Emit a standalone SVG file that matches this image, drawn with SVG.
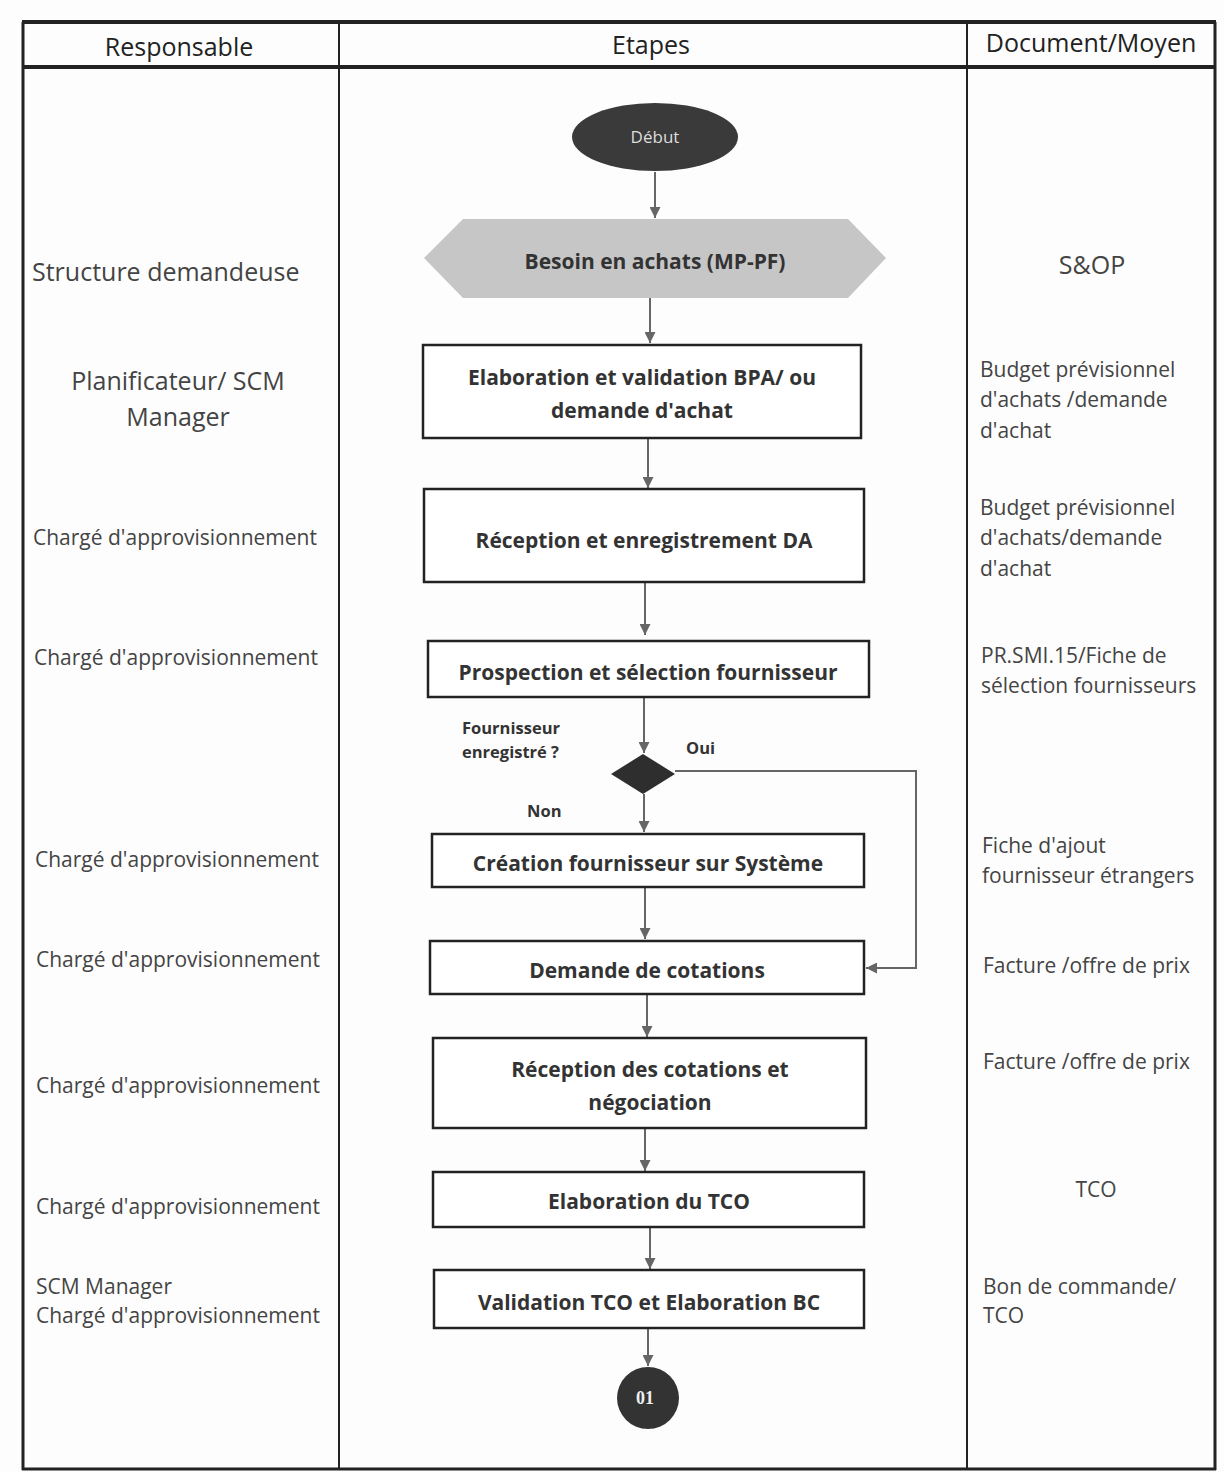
<svg xmlns="http://www.w3.org/2000/svg" width="1224" height="1472" viewBox="0 0 1224 1472">
<defs>
<style>
.hdr{font-family:"Open Sans","Noto Sans",sans-serif;font-size:25px;fill:#222;text-anchor:middle}
.lt{font-family:"Open Sans","Noto Sans",sans-serif;font-size:21px;fill:#444}
.ltb{font-family:"Open Sans","Noto Sans",sans-serif;font-size:25px;fill:#444}
.box{fill:#fff;stroke:#222;stroke-width:2.5}
.bt{font-family:"Open Sans","Noto Sans",sans-serif;font-size:21px;font-weight:bold;fill:#333;text-anchor:middle}
.lbl{font-family:"Open Sans","Noto Sans",sans-serif;font-size:16.5px;font-weight:bold;fill:#333}
.con{fill:none;stroke:#666;stroke-width:2}
.grid{fill:none;stroke:#222;stroke-width:2}
</style>
<marker id="ah" viewBox="0 0 10 10" refX="10" refY="5" markerWidth="5.5" markerHeight="5.5" orient="auto">
<path d="M0,0 L10,5 L0,10 Z" fill="#666"/>
</marker>
</defs>
<rect x="0" y="0" width="1224" height="1472" fill="#fdfdfd"/>
<g id="table">
<line x1="22" y1="22" x2="1216" y2="22" stroke="#222" stroke-width="4"/>
<line x1="22" y1="67" x2="1216" y2="67" stroke="#222" stroke-width="4"/>
<line x1="22" y1="1469" x2="1216" y2="1469" stroke="#222" stroke-width="3"/>
<line x1="339" y1="22" x2="339" y2="1470" class="grid"/>
<line x1="967" y1="22" x2="967" y2="1470" class="grid"/>
<line x1="1215" y1="22" x2="1215" y2="1470" stroke="#222" stroke-width="3"/>
<line x1="23" y1="22" x2="23" y2="1470" stroke="#222" stroke-width="3"/>
<text class="hdr" x="179" y="56">Responsable</text>
<text class="hdr" x="651" y="54">Etapes</text>
<text class="hdr" x="1091" y="52">Document/Moyen</text>
</g>
<g id="connectors">
<line class="con" x1="655" y1="172" x2="655" y2="218" marker-end="url(#ah)"/>
<line class="con" x1="650" y1="298" x2="650" y2="343" marker-end="url(#ah)"/>
<line class="con" x1="648" y1="438" x2="648" y2="488" marker-end="url(#ah)"/>
<line class="con" x1="645" y1="582" x2="645" y2="635" marker-end="url(#ah)"/>
<line class="con" x1="644" y1="697" x2="644" y2="753" marker-end="url(#ah)"/>
<polyline class="con" points="675,771 916,771 916,968 866,968" marker-end="url(#ah)"/>
<line class="con" x1="644" y1="794" x2="644" y2="832" marker-end="url(#ah)"/>
<line class="con" x1="645" y1="887" x2="645" y2="939" marker-end="url(#ah)"/>
<line class="con" x1="647" y1="994" x2="647" y2="1037" marker-end="url(#ah)"/>
<line class="con" x1="645" y1="1128" x2="645" y2="1171" marker-end="url(#ah)"/>
<line class="con" x1="650" y1="1227" x2="650" y2="1269" marker-end="url(#ah)"/>
<line class="con" x1="648" y1="1328" x2="648" y2="1366" marker-end="url(#ah)"/>
<text class="lbl" x="462" y="734">Fournisseur</text>
<text class="lbl" x="462" y="758">enregistré ?</text>
<text class="lbl" x="686" y="754">Oui</text>
<text class="lbl" x="527" y="817">Non</text>
</g>
<g id="debut">
<ellipse cx="655" cy="137" rx="83" ry="34" fill="#3a3a3a"/>
<text x="655" y="143" font-family="'Open Sans','Noto Sans',sans-serif" font-size="17" fill="#ddd" text-anchor="middle">Début</text>
</g>
<g id="besoin">
<polygon points="424,258 463,219 848,219 886,258 848,298 463,298" fill="#c6c6c6"/>
<text class="bt" x="655" y="269">Besoin en achats (MP-PF)</text>
</g>
<g id="elaboration-bpa">
<rect class="box" x="423" y="345" width="438" height="93"/>
<text class="bt" x="642" y="385">Elaboration et validation BPA/ ou</text>
<text class="bt" x="642" y="418">demande d'achat</text>
</g>
<g id="reception-da">
<rect class="box" x="424" y="489" width="440" height="93"/>
<text class="bt" x="644" y="548">Réception et enregistrement DA</text>
</g>
<g id="prospection">
<rect class="box" x="428" y="641" width="441" height="56"/>
<text class="bt" x="648" y="680">Prospection et sélection fournisseur</text>
</g>
<g id="decision">
<polygon points="643,754 675,774 643,794 611,774" fill="#2e2e2e"/>
</g>
<g id="creation-fournisseur">
<rect class="box" x="432" y="834" width="432" height="53"/>
<text class="bt" x="648" y="871">Création fournisseur sur Système</text>
</g>
<g id="demande-cotations">
<rect class="box" x="430" y="941" width="434" height="53"/>
<text class="bt" x="647" y="978">Demande de cotations</text>
</g>
<g id="reception-cotations">
<rect class="box" x="433" y="1038" width="433" height="90"/>
<text class="bt" x="650" y="1077">Réception des cotations et</text>
<text class="bt" x="650" y="1110">négociation</text>
</g>
<g id="elaboration-tco">
<rect class="box" x="433" y="1172" width="431" height="55"/>
<text class="bt" x="649" y="1209">Elaboration du TCO</text>
</g>
<g id="validation-tco">
<rect class="box" x="434" y="1270" width="430" height="58"/>
<text class="bt" x="649" y="1310">Validation TCO et Elaboration BC</text>
</g>
<g id="connecteur-01">
<circle cx="648" cy="1398" r="31" fill="#333"/>
<text x="645" y="1404" font-family="'Liberation Serif',serif" font-size="18" font-weight="bold" fill="#eee" text-anchor="middle">01</text>
</g>
<g id="responsables">
<text class="ltb" x="32" y="281">Structure demandeuse</text>
<text class="ltb" x="178" y="390" text-anchor="middle">Planificateur/ SCM</text>
<text class="ltb" x="178" y="426" text-anchor="middle">Manager</text>
<text class="lt" x="33" y="545">Chargé d'approvisionnement</text>
<text class="lt" x="34" y="665">Chargé d'approvisionnement</text>
<text class="lt" x="35" y="867">Chargé d'approvisionnement</text>
<text class="lt" x="36" y="967">Chargé d'approvisionnement</text>
<text class="lt" x="36" y="1093">Chargé d'approvisionnement</text>
<text class="lt" x="36" y="1214">Chargé d'approvisionnement</text>
<text class="lt" x="36" y="1294">SCM Manager</text>
<text class="lt" x="36" y="1323">Chargé d'approvisionnement</text>
</g>
<g id="documents">
<text class="ltb" x="1092" y="274" text-anchor="middle">S&amp;OP</text>
<text class="lt" x="980" y="377">Budget prévisionnel</text>
<text class="lt" x="980" y="407">d'achats /demande</text>
<text class="lt" x="980" y="438">d'achat</text>
<text class="lt" x="980" y="515">Budget prévisionnel</text>
<text class="lt" x="980" y="545">d'achats/demande</text>
<text class="lt" x="980" y="576">d'achat</text>
<text class="lt" x="981" y="663">PR.SMI.15/Fiche de</text>
<text class="lt" x="981" y="693">sélection fournisseurs</text>
<text class="lt" x="982" y="853">Fiche d'ajout</text>
<text class="lt" x="982" y="883">fournisseur étrangers</text>
<text class="lt" x="983" y="973">Facture /offre de prix</text>
<text class="lt" x="983" y="1069">Facture /offre de prix</text>
<text class="lt" x="1096" y="1197" text-anchor="middle">TCO</text>
<text class="lt" x="983" y="1294">Bon de commande/</text>
<text class="lt" x="983" y="1323">TCO</text>
</g>
</svg>
